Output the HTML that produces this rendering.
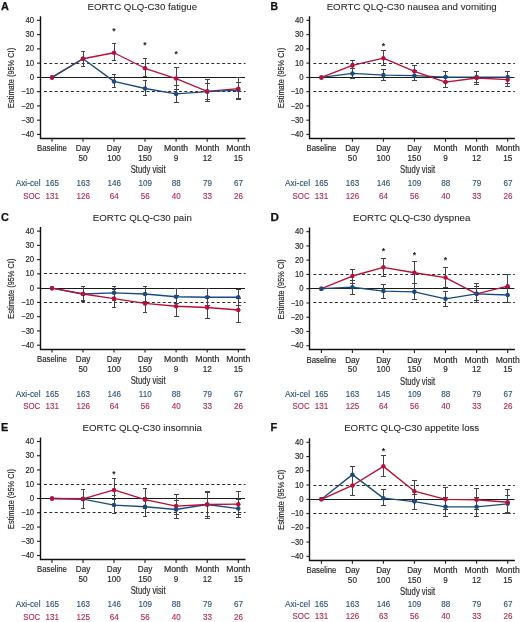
<!DOCTYPE html>
<html><head><meta charset="utf-8"><style>
html,body{margin:0;padding:0;background:#fff;}
svg{display:block;font-family:"Liberation Sans", sans-serif;will-change:transform;}
</style></head><body>
<svg width="520" height="622" viewBox="0 0 520 622">
<rect width="520" height="622" fill="#fff"/>
<g transform="translate(0,0)">
<text x="1" y="9.8" font-size="10.6" font-weight="bold" fill="#111" stroke="#111" stroke-width="0.25" textLength="7.88" lengthAdjust="spacingAndGlyphs">A</text>
<text x="142.3" y="10.1" font-size="9.6" fill="#2a2a2a" stroke="#2a2a2a" stroke-width="0.08" text-anchor="middle" textLength="109.75" lengthAdjust="spacingAndGlyphs">EORTC QLQ-C30 fatigue</text>
<text transform="translate(14.3,77.9) rotate(-90)" font-size="9.3" fill="#2a2a2a" stroke="#2a2a2a" stroke-width="0.18" text-anchor="middle" textLength="60" lengthAdjust="spacingAndGlyphs">Estimate (95% CI)</text>
<text x="34.1" y="22.96" font-size="8.8" fill="#2a2a2a" stroke="#2a2a2a" stroke-width="0.18" text-anchor="end" textLength="8.61" lengthAdjust="spacingAndGlyphs">40</text>
<path d="M37 20.36H40" stroke="#222" stroke-width="1.1"/>
<text x="34.1" y="37.22" font-size="8.8" fill="#2a2a2a" stroke="#2a2a2a" stroke-width="0.18" text-anchor="end" textLength="8.61" lengthAdjust="spacingAndGlyphs">30</text>
<path d="M37 34.62H40" stroke="#222" stroke-width="1.1"/>
<text x="34.1" y="51.48" font-size="8.8" fill="#2a2a2a" stroke="#2a2a2a" stroke-width="0.18" text-anchor="end" textLength="8.61" lengthAdjust="spacingAndGlyphs">20</text>
<path d="M37 48.88H40" stroke="#222" stroke-width="1.1"/>
<text x="34.1" y="65.74" font-size="8.8" fill="#2a2a2a" stroke="#2a2a2a" stroke-width="0.18" text-anchor="end" textLength="8.61" lengthAdjust="spacingAndGlyphs">10</text>
<path d="M37 63.14H40" stroke="#222" stroke-width="1.1"/>
<text x="34.1" y="80" font-size="8.8" fill="#2a2a2a" stroke="#2a2a2a" stroke-width="0.18" text-anchor="end" textLength="4.31" lengthAdjust="spacingAndGlyphs">0</text>
<path d="M37 77.4H40" stroke="#222" stroke-width="1.1"/>
<text x="34.1" y="94.26" font-size="8.8" fill="#2a2a2a" stroke="#2a2a2a" stroke-width="0.18" text-anchor="end" textLength="12.84" lengthAdjust="spacingAndGlyphs">−10</text>
<path d="M37 91.66H40" stroke="#222" stroke-width="1.1"/>
<text x="34.1" y="108.52" font-size="8.8" fill="#2a2a2a" stroke="#2a2a2a" stroke-width="0.18" text-anchor="end" textLength="12.84" lengthAdjust="spacingAndGlyphs">−20</text>
<path d="M37 105.92H40" stroke="#222" stroke-width="1.1"/>
<text x="34.1" y="122.78" font-size="8.8" fill="#2a2a2a" stroke="#2a2a2a" stroke-width="0.18" text-anchor="end" textLength="12.84" lengthAdjust="spacingAndGlyphs">−30</text>
<path d="M37 120.18H40" stroke="#222" stroke-width="1.1"/>
<text x="34.1" y="137.04" font-size="8.8" fill="#2a2a2a" stroke="#2a2a2a" stroke-width="0.18" text-anchor="end" textLength="12.84" lengthAdjust="spacingAndGlyphs">−40</text>
<path d="M37 134.44H40" stroke="#222" stroke-width="1.1"/>
<path d="M44 63.5H245.5M44 91.5H245.5" stroke="#2a2a2a" stroke-width="1.1" stroke-dasharray="2.9 2.5"/>
<path d="M40 77.5H245" stroke="#1a1a1a" stroke-width="1.1"/>
<path d="M40.5 16.3V138.5H245.5" stroke="#111" stroke-width="1.4" fill="none"/>
<path d="M52 138.5V141.8" stroke="#222" stroke-width="1.1"/>
<path d="M83 138.5V141.8" stroke="#222" stroke-width="1.1"/>
<path d="M114 138.5V141.8" stroke="#222" stroke-width="1.1"/>
<path d="M145 138.5V141.8" stroke="#222" stroke-width="1.1"/>
<path d="M176.1 138.5V141.8" stroke="#222" stroke-width="1.1"/>
<path d="M207.2 138.5V141.8" stroke="#222" stroke-width="1.1"/>
<path d="M238.3 138.5V141.8" stroke="#222" stroke-width="1.1"/>
<text x="52" y="151.35" font-size="8.4" fill="#2a2a2a" stroke="#2a2a2a" stroke-width="0.18" text-anchor="middle" textLength="29.81" lengthAdjust="spacingAndGlyphs">Baseline</text>
<text x="83" y="151.35" font-size="8.4" fill="#2a2a2a" stroke="#2a2a2a" stroke-width="0.18" text-anchor="middle" textLength="14.49" lengthAdjust="spacingAndGlyphs">Day</text>
<text x="83" y="160.9" font-size="8.8" fill="#2a2a2a" stroke="#2a2a2a" stroke-width="0.18" text-anchor="middle" textLength="9.1" lengthAdjust="spacingAndGlyphs">50</text>
<text x="114" y="151.35" font-size="8.4" fill="#2a2a2a" stroke="#2a2a2a" stroke-width="0.18" text-anchor="middle" textLength="14.49" lengthAdjust="spacingAndGlyphs">Day</text>
<text x="114" y="160.9" font-size="8.8" fill="#2a2a2a" stroke="#2a2a2a" stroke-width="0.18" text-anchor="middle" textLength="13.65" lengthAdjust="spacingAndGlyphs">100</text>
<text x="145" y="151.35" font-size="8.4" fill="#2a2a2a" stroke="#2a2a2a" stroke-width="0.18" text-anchor="middle" textLength="14.49" lengthAdjust="spacingAndGlyphs">Day</text>
<text x="145" y="160.9" font-size="8.8" fill="#2a2a2a" stroke="#2a2a2a" stroke-width="0.18" text-anchor="middle" textLength="13.65" lengthAdjust="spacingAndGlyphs">150</text>
<text x="176.1" y="151.35" font-size="8.4" fill="#2a2a2a" stroke="#2a2a2a" stroke-width="0.18" text-anchor="middle" textLength="24.05" lengthAdjust="spacingAndGlyphs">Month</text>
<text x="176.1" y="160.9" font-size="8.8" fill="#2a2a2a" stroke="#2a2a2a" stroke-width="0.18" text-anchor="middle" textLength="4.55" lengthAdjust="spacingAndGlyphs">9</text>
<text x="207.2" y="151.35" font-size="8.4" fill="#2a2a2a" stroke="#2a2a2a" stroke-width="0.18" text-anchor="middle" textLength="24.05" lengthAdjust="spacingAndGlyphs">Month</text>
<text x="207.2" y="160.9" font-size="8.8" fill="#2a2a2a" stroke="#2a2a2a" stroke-width="0.18" text-anchor="middle" textLength="9.1" lengthAdjust="spacingAndGlyphs">12</text>
<text x="238.3" y="151.35" font-size="8.4" fill="#2a2a2a" stroke="#2a2a2a" stroke-width="0.18" text-anchor="middle" textLength="24.05" lengthAdjust="spacingAndGlyphs">Month</text>
<text x="238.3" y="160.9" font-size="8.8" fill="#2a2a2a" stroke="#2a2a2a" stroke-width="0.18" text-anchor="middle" textLength="9.1" lengthAdjust="spacingAndGlyphs">15</text>
<text x="148.2" y="173.4" font-size="10.3" fill="#2a2a2a" stroke="#2a2a2a" stroke-width="0.18" text-anchor="middle" textLength="34.97" lengthAdjust="spacingAndGlyphs">Study visit</text>
<text x="40.6" y="186.3" font-size="8.3" fill="#2a5079" stroke="#2a5079" stroke-width="0.12" text-anchor="end">Axi-cel</text>
<text x="40.3" y="198.5" font-size="8.3" fill="#b42a48" stroke="#b42a48" stroke-width="0.12" text-anchor="end" textLength="17.09" lengthAdjust="spacingAndGlyphs">SOC</text>
<text x="52.2" y="186.3" font-size="8.4" fill="#2a5079" stroke="#2a5079" stroke-width="0.12" text-anchor="middle" textLength="13.45" lengthAdjust="spacingAndGlyphs">165</text>
<text x="52.2" y="198.5" font-size="8.4" fill="#b42a48" stroke="#b42a48" stroke-width="0.12" text-anchor="middle" textLength="13.45" lengthAdjust="spacingAndGlyphs">131</text>
<text x="83.2" y="186.3" font-size="8.4" fill="#2a5079" stroke="#2a5079" stroke-width="0.12" text-anchor="middle" textLength="13.45" lengthAdjust="spacingAndGlyphs">163</text>
<text x="83.2" y="198.5" font-size="8.4" fill="#b42a48" stroke="#b42a48" stroke-width="0.12" text-anchor="middle" textLength="13.45" lengthAdjust="spacingAndGlyphs">126</text>
<text x="114.2" y="186.3" font-size="8.4" fill="#2a5079" stroke="#2a5079" stroke-width="0.12" text-anchor="middle" textLength="13.45" lengthAdjust="spacingAndGlyphs">146</text>
<text x="114.2" y="198.5" font-size="8.4" fill="#b42a48" stroke="#b42a48" stroke-width="0.12" text-anchor="middle" textLength="8.97" lengthAdjust="spacingAndGlyphs">64</text>
<text x="145.2" y="186.3" font-size="8.4" fill="#2a5079" stroke="#2a5079" stroke-width="0.12" text-anchor="middle" textLength="13.45" lengthAdjust="spacingAndGlyphs">109</text>
<text x="145.2" y="198.5" font-size="8.4" fill="#b42a48" stroke="#b42a48" stroke-width="0.12" text-anchor="middle" textLength="8.97" lengthAdjust="spacingAndGlyphs">56</text>
<text x="176.3" y="186.3" font-size="8.4" fill="#2a5079" stroke="#2a5079" stroke-width="0.12" text-anchor="middle" textLength="8.97" lengthAdjust="spacingAndGlyphs">88</text>
<text x="176.3" y="198.5" font-size="8.4" fill="#b42a48" stroke="#b42a48" stroke-width="0.12" text-anchor="middle" textLength="8.97" lengthAdjust="spacingAndGlyphs">40</text>
<text x="207.4" y="186.3" font-size="8.4" fill="#2a5079" stroke="#2a5079" stroke-width="0.12" text-anchor="middle" textLength="8.97" lengthAdjust="spacingAndGlyphs">79</text>
<text x="207.4" y="198.5" font-size="8.4" fill="#b42a48" stroke="#b42a48" stroke-width="0.12" text-anchor="middle" textLength="8.97" lengthAdjust="spacingAndGlyphs">33</text>
<text x="238.5" y="186.3" font-size="8.4" fill="#2a5079" stroke="#2a5079" stroke-width="0.12" text-anchor="middle" textLength="8.97" lengthAdjust="spacingAndGlyphs">67</text>
<text x="238.5" y="198.5" font-size="8.4" fill="#b42a48" stroke="#b42a48" stroke-width="0.12" text-anchor="middle" textLength="8.97" lengthAdjust="spacingAndGlyphs">26</text>
<path d="M83 51.59V66.28M80.6 51.59H85.4M80.6 66.28H85.4" stroke="#444" stroke-width="1" fill="none" shape-rendering="crispEdges"/>
<path d="M114 74.69V87.67M111.6 74.69H116.4M111.6 87.67H116.4" stroke="#444" stroke-width="1" fill="none" shape-rendering="crispEdges"/>
<path d="M145 80.39V95.37M142.6 80.39H147.4M142.6 95.37H147.4" stroke="#444" stroke-width="1" fill="none" shape-rendering="crispEdges"/>
<path d="M176.1 85.96V102.5M173.7 85.96H178.5M173.7 102.5H178.5" stroke="#444" stroke-width="1" fill="none" shape-rendering="crispEdges"/>
<path d="M207.2 83.67V99.65M204.8 83.67H209.6M204.8 99.65H209.6" stroke="#444" stroke-width="1" fill="none" shape-rendering="crispEdges"/>
<path d="M238.3 82.11V98.08M235.9 82.11H240.7M235.9 98.08H240.7" stroke="#444" stroke-width="1" fill="none" shape-rendering="crispEdges"/>
<path d="M83 51.59V66.28M80.6 51.59H85.4M80.6 66.28H85.4" stroke="#444" stroke-width="1" fill="none" shape-rendering="crispEdges"/>
<path d="M114 43.89V60.72M111.6 43.89H116.4M111.6 60.72H116.4" stroke="#444" stroke-width="1" fill="none" shape-rendering="crispEdges"/>
<path d="M145 58.43V76.97M142.6 58.43H147.4M142.6 76.97H147.4" stroke="#444" stroke-width="1" fill="none" shape-rendering="crispEdges"/>
<path d="M176.1 67.42V89.38M173.7 67.42H178.5M173.7 89.38H178.5" stroke="#444" stroke-width="1" fill="none" shape-rendering="crispEdges"/>
<path d="M207.2 79.68V101.36M204.8 79.68H209.6M204.8 101.36H209.6" stroke="#444" stroke-width="1" fill="none" shape-rendering="crispEdges"/>
<path d="M238.3 77.11V99.65M235.9 77.11H240.7M235.9 99.65H240.7" stroke="#444" stroke-width="1" fill="none" shape-rendering="crispEdges"/>
<polyline points="52,77.4 83,58.72 114,52.73 145,68.27 176.1,78.54 207.2,91.37 238.3,88.67" fill="none" stroke="#b8103a" stroke-width="1.35" stroke-linejoin="round"/>
<polyline points="52,77.4 83,58.72 114,81.39 145,88.52 176.1,93.94 207.2,91.66 238.3,90.09" fill="none" stroke="#1b4b7e" stroke-width="1.35" stroke-linejoin="round"/>
<circle cx="52" cy="77.4" r="2.25" fill="#1b4b7e"/>
<circle cx="83" cy="58.72" r="2.25" fill="#1b4b7e"/>
<circle cx="114" cy="81.39" r="2.25" fill="#1b4b7e"/>
<circle cx="145" cy="88.52" r="2.25" fill="#1b4b7e"/>
<circle cx="176.1" cy="93.94" r="2.25" fill="#1b4b7e"/>
<circle cx="207.2" cy="91.66" r="2.25" fill="#1b4b7e"/>
<circle cx="238.3" cy="90.09" r="2.25" fill="#1b4b7e"/>
<circle cx="52" cy="77.4" r="2.25" fill="#b8103a"/>
<circle cx="83" cy="58.72" r="2.25" fill="#b8103a"/>
<circle cx="114" cy="52.73" r="2.25" fill="#b8103a"/>
<circle cx="145" cy="68.27" r="2.25" fill="#b8103a"/>
<circle cx="176.1" cy="78.54" r="2.25" fill="#b8103a"/>
<circle cx="207.2" cy="91.37" r="2.25" fill="#b8103a"/>
<circle cx="238.3" cy="88.67" r="2.25" fill="#b8103a"/>
<text x="114" y="33.9" font-size="8.5" font-weight="bold" fill="#222" text-anchor="middle">*</text>
<text x="145" y="47.9" font-size="8.5" font-weight="bold" fill="#222" text-anchor="middle">*</text>
<text x="176.1" y="56.7" font-size="8.5" font-weight="bold" fill="#222" text-anchor="middle">*</text>
</g>
<g transform="translate(269.4,0)">
<text x="1" y="9.8" font-size="10.6" font-weight="bold" fill="#111" stroke="#111" stroke-width="0.25" textLength="7.5" lengthAdjust="spacingAndGlyphs">B</text>
<text x="142.3" y="10.1" font-size="9.6" fill="#2a2a2a" stroke="#2a2a2a" stroke-width="0.08" text-anchor="middle" textLength="170.12" lengthAdjust="spacingAndGlyphs">EORTC QLQ-C30 nausea and vomiting</text>
<text transform="translate(14.3,77.9) rotate(-90)" font-size="9.3" fill="#2a2a2a" stroke="#2a2a2a" stroke-width="0.18" text-anchor="middle" textLength="60" lengthAdjust="spacingAndGlyphs">Estimate (95% CI)</text>
<text x="34.1" y="22.96" font-size="8.8" fill="#2a2a2a" stroke="#2a2a2a" stroke-width="0.18" text-anchor="end" textLength="8.61" lengthAdjust="spacingAndGlyphs">40</text>
<path d="M37 20.36H40" stroke="#222" stroke-width="1.1"/>
<text x="34.1" y="37.22" font-size="8.8" fill="#2a2a2a" stroke="#2a2a2a" stroke-width="0.18" text-anchor="end" textLength="8.61" lengthAdjust="spacingAndGlyphs">30</text>
<path d="M37 34.62H40" stroke="#222" stroke-width="1.1"/>
<text x="34.1" y="51.48" font-size="8.8" fill="#2a2a2a" stroke="#2a2a2a" stroke-width="0.18" text-anchor="end" textLength="8.61" lengthAdjust="spacingAndGlyphs">20</text>
<path d="M37 48.88H40" stroke="#222" stroke-width="1.1"/>
<text x="34.1" y="65.74" font-size="8.8" fill="#2a2a2a" stroke="#2a2a2a" stroke-width="0.18" text-anchor="end" textLength="8.61" lengthAdjust="spacingAndGlyphs">10</text>
<path d="M37 63.14H40" stroke="#222" stroke-width="1.1"/>
<text x="34.1" y="80" font-size="8.8" fill="#2a2a2a" stroke="#2a2a2a" stroke-width="0.18" text-anchor="end" textLength="4.31" lengthAdjust="spacingAndGlyphs">0</text>
<path d="M37 77.4H40" stroke="#222" stroke-width="1.1"/>
<text x="34.1" y="94.26" font-size="8.8" fill="#2a2a2a" stroke="#2a2a2a" stroke-width="0.18" text-anchor="end" textLength="12.84" lengthAdjust="spacingAndGlyphs">−10</text>
<path d="M37 91.66H40" stroke="#222" stroke-width="1.1"/>
<text x="34.1" y="108.52" font-size="8.8" fill="#2a2a2a" stroke="#2a2a2a" stroke-width="0.18" text-anchor="end" textLength="12.84" lengthAdjust="spacingAndGlyphs">−20</text>
<path d="M37 105.92H40" stroke="#222" stroke-width="1.1"/>
<text x="34.1" y="122.78" font-size="8.8" fill="#2a2a2a" stroke="#2a2a2a" stroke-width="0.18" text-anchor="end" textLength="12.84" lengthAdjust="spacingAndGlyphs">−30</text>
<path d="M37 120.18H40" stroke="#222" stroke-width="1.1"/>
<text x="34.1" y="137.04" font-size="8.8" fill="#2a2a2a" stroke="#2a2a2a" stroke-width="0.18" text-anchor="end" textLength="12.84" lengthAdjust="spacingAndGlyphs">−40</text>
<path d="M37 134.44H40" stroke="#222" stroke-width="1.1"/>
<path d="M44 63.5H245.5M44 91.5H245.5" stroke="#2a2a2a" stroke-width="1.1" stroke-dasharray="2.9 2.5"/>
<path d="M40 77.5H245" stroke="#1a1a1a" stroke-width="1.1"/>
<path d="M40.1 16.3V138.5H245.5" stroke="#111" stroke-width="1.4" fill="none"/>
<path d="M52 138.5V141.8" stroke="#222" stroke-width="1.1"/>
<path d="M83 138.5V141.8" stroke="#222" stroke-width="1.1"/>
<path d="M114 138.5V141.8" stroke="#222" stroke-width="1.1"/>
<path d="M145 138.5V141.8" stroke="#222" stroke-width="1.1"/>
<path d="M176.1 138.5V141.8" stroke="#222" stroke-width="1.1"/>
<path d="M207.2 138.5V141.8" stroke="#222" stroke-width="1.1"/>
<path d="M238.3 138.5V141.8" stroke="#222" stroke-width="1.1"/>
<text x="52" y="151.35" font-size="8.4" fill="#2a2a2a" stroke="#2a2a2a" stroke-width="0.18" text-anchor="middle" textLength="29.81" lengthAdjust="spacingAndGlyphs">Baseline</text>
<text x="83" y="151.35" font-size="8.4" fill="#2a2a2a" stroke="#2a2a2a" stroke-width="0.18" text-anchor="middle" textLength="14.49" lengthAdjust="spacingAndGlyphs">Day</text>
<text x="83" y="160.9" font-size="8.8" fill="#2a2a2a" stroke="#2a2a2a" stroke-width="0.18" text-anchor="middle" textLength="9.1" lengthAdjust="spacingAndGlyphs">50</text>
<text x="114" y="151.35" font-size="8.4" fill="#2a2a2a" stroke="#2a2a2a" stroke-width="0.18" text-anchor="middle" textLength="14.49" lengthAdjust="spacingAndGlyphs">Day</text>
<text x="114" y="160.9" font-size="8.8" fill="#2a2a2a" stroke="#2a2a2a" stroke-width="0.18" text-anchor="middle" textLength="13.65" lengthAdjust="spacingAndGlyphs">100</text>
<text x="145" y="151.35" font-size="8.4" fill="#2a2a2a" stroke="#2a2a2a" stroke-width="0.18" text-anchor="middle" textLength="14.49" lengthAdjust="spacingAndGlyphs">Day</text>
<text x="145" y="160.9" font-size="8.8" fill="#2a2a2a" stroke="#2a2a2a" stroke-width="0.18" text-anchor="middle" textLength="13.65" lengthAdjust="spacingAndGlyphs">150</text>
<text x="176.1" y="151.35" font-size="8.4" fill="#2a2a2a" stroke="#2a2a2a" stroke-width="0.18" text-anchor="middle" textLength="24.05" lengthAdjust="spacingAndGlyphs">Month</text>
<text x="176.1" y="160.9" font-size="8.8" fill="#2a2a2a" stroke="#2a2a2a" stroke-width="0.18" text-anchor="middle" textLength="4.55" lengthAdjust="spacingAndGlyphs">9</text>
<text x="207.2" y="151.35" font-size="8.4" fill="#2a2a2a" stroke="#2a2a2a" stroke-width="0.18" text-anchor="middle" textLength="24.05" lengthAdjust="spacingAndGlyphs">Month</text>
<text x="207.2" y="160.9" font-size="8.8" fill="#2a2a2a" stroke="#2a2a2a" stroke-width="0.18" text-anchor="middle" textLength="9.1" lengthAdjust="spacingAndGlyphs">12</text>
<text x="238.3" y="151.35" font-size="8.4" fill="#2a2a2a" stroke="#2a2a2a" stroke-width="0.18" text-anchor="middle" textLength="24.05" lengthAdjust="spacingAndGlyphs">Month</text>
<text x="238.3" y="160.9" font-size="8.8" fill="#2a2a2a" stroke="#2a2a2a" stroke-width="0.18" text-anchor="middle" textLength="9.1" lengthAdjust="spacingAndGlyphs">15</text>
<text x="148.2" y="173.4" font-size="10.3" fill="#2a2a2a" stroke="#2a2a2a" stroke-width="0.18" text-anchor="middle" textLength="34.97" lengthAdjust="spacingAndGlyphs">Study visit</text>
<text x="40.6" y="186.3" font-size="8.3" fill="#2a5079" stroke="#2a5079" stroke-width="0.12" text-anchor="end">Axi-cel</text>
<text x="40.3" y="198.5" font-size="8.3" fill="#b42a48" stroke="#b42a48" stroke-width="0.12" text-anchor="end" textLength="17.09" lengthAdjust="spacingAndGlyphs">SOC</text>
<text x="52.2" y="186.3" font-size="8.4" fill="#2a5079" stroke="#2a5079" stroke-width="0.12" text-anchor="middle" textLength="13.45" lengthAdjust="spacingAndGlyphs">165</text>
<text x="52.2" y="198.5" font-size="8.4" fill="#b42a48" stroke="#b42a48" stroke-width="0.12" text-anchor="middle" textLength="13.45" lengthAdjust="spacingAndGlyphs">131</text>
<text x="83.2" y="186.3" font-size="8.4" fill="#2a5079" stroke="#2a5079" stroke-width="0.12" text-anchor="middle" textLength="13.45" lengthAdjust="spacingAndGlyphs">163</text>
<text x="83.2" y="198.5" font-size="8.4" fill="#b42a48" stroke="#b42a48" stroke-width="0.12" text-anchor="middle" textLength="13.45" lengthAdjust="spacingAndGlyphs">126</text>
<text x="114.2" y="186.3" font-size="8.4" fill="#2a5079" stroke="#2a5079" stroke-width="0.12" text-anchor="middle" textLength="13.45" lengthAdjust="spacingAndGlyphs">146</text>
<text x="114.2" y="198.5" font-size="8.4" fill="#b42a48" stroke="#b42a48" stroke-width="0.12" text-anchor="middle" textLength="8.97" lengthAdjust="spacingAndGlyphs">64</text>
<text x="145.2" y="186.3" font-size="8.4" fill="#2a5079" stroke="#2a5079" stroke-width="0.12" text-anchor="middle" textLength="13.45" lengthAdjust="spacingAndGlyphs">109</text>
<text x="145.2" y="198.5" font-size="8.4" fill="#b42a48" stroke="#b42a48" stroke-width="0.12" text-anchor="middle" textLength="8.97" lengthAdjust="spacingAndGlyphs">56</text>
<text x="176.3" y="186.3" font-size="8.4" fill="#2a5079" stroke="#2a5079" stroke-width="0.12" text-anchor="middle" textLength="8.97" lengthAdjust="spacingAndGlyphs">88</text>
<text x="176.3" y="198.5" font-size="8.4" fill="#b42a48" stroke="#b42a48" stroke-width="0.12" text-anchor="middle" textLength="8.97" lengthAdjust="spacingAndGlyphs">40</text>
<text x="207.4" y="186.3" font-size="8.4" fill="#2a5079" stroke="#2a5079" stroke-width="0.12" text-anchor="middle" textLength="8.97" lengthAdjust="spacingAndGlyphs">79</text>
<text x="207.4" y="198.5" font-size="8.4" fill="#b42a48" stroke="#b42a48" stroke-width="0.12" text-anchor="middle" textLength="8.97" lengthAdjust="spacingAndGlyphs">33</text>
<text x="238.5" y="186.3" font-size="8.4" fill="#2a5079" stroke="#2a5079" stroke-width="0.12" text-anchor="middle" textLength="8.97" lengthAdjust="spacingAndGlyphs">67</text>
<text x="238.5" y="198.5" font-size="8.4" fill="#b42a48" stroke="#b42a48" stroke-width="0.12" text-anchor="middle" textLength="8.97" lengthAdjust="spacingAndGlyphs">26</text>
<path d="M83 68.27V78.11M80.6 68.27H85.4M80.6 78.11H85.4" stroke="#444" stroke-width="1" fill="none" shape-rendering="crispEdges"/>
<path d="M114 69.84V80.39M111.6 69.84H116.4M111.6 80.39H116.4" stroke="#444" stroke-width="1" fill="none" shape-rendering="crispEdges"/>
<path d="M145 70.98V80.25M142.6 70.98H147.4M142.6 80.25H147.4" stroke="#444" stroke-width="1" fill="none" shape-rendering="crispEdges"/>
<path d="M176.1 71.7V82.39M173.7 71.7H178.5M173.7 82.39H178.5" stroke="#444" stroke-width="1" fill="none" shape-rendering="crispEdges"/>
<path d="M207.2 71.7V82.39M204.8 71.7H209.6M204.8 82.39H209.6" stroke="#444" stroke-width="1" fill="none" shape-rendering="crispEdges"/>
<path d="M238.3 71.7V83.1M235.9 71.7H240.7M235.9 83.1H240.7" stroke="#444" stroke-width="1" fill="none" shape-rendering="crispEdges"/>
<path d="M83 60.72V78.11M80.6 60.72H85.4M80.6 78.11H85.4" stroke="#444" stroke-width="1" fill="none" shape-rendering="crispEdges"/>
<path d="M114 50.45V65.28M111.6 50.45H116.4M111.6 65.28H116.4" stroke="#444" stroke-width="1" fill="none" shape-rendering="crispEdges"/>
<path d="M145 65.42V80.39M142.6 65.42H147.4M142.6 80.39H147.4" stroke="#444" stroke-width="1" fill="none" shape-rendering="crispEdges"/>
<path d="M176.1 76.69V87.81M173.7 76.69H178.5M173.7 87.81H178.5" stroke="#444" stroke-width="1" fill="none" shape-rendering="crispEdges"/>
<path d="M207.2 71.7V84.39M204.8 71.7H209.6M204.8 84.39H209.6" stroke="#444" stroke-width="1" fill="none" shape-rendering="crispEdges"/>
<path d="M238.3 71.7V86.67M235.9 71.7H240.7M235.9 86.67H240.7" stroke="#444" stroke-width="1" fill="none" shape-rendering="crispEdges"/>
<polyline points="52,77.4 83,73.41 114,75.12 145,75.69 176.1,77.11 207.2,77.11 238.3,77.11" fill="none" stroke="#1b4b7e" stroke-width="1.35" stroke-linejoin="round"/>
<circle cx="52" cy="77.4" r="2.25" fill="#1b4b7e"/>
<circle cx="83" cy="73.41" r="2.25" fill="#1b4b7e"/>
<circle cx="114" cy="75.12" r="2.25" fill="#1b4b7e"/>
<circle cx="145" cy="75.69" r="2.25" fill="#1b4b7e"/>
<circle cx="176.1" cy="77.11" r="2.25" fill="#1b4b7e"/>
<circle cx="207.2" cy="77.11" r="2.25" fill="#1b4b7e"/>
<circle cx="238.3" cy="77.11" r="2.25" fill="#1b4b7e"/>
<polyline points="52,77.4 83,65.42 114,58.15 145,71.27 176.1,82.11 207.2,77.97 238.3,79.68" fill="none" stroke="#b8103a" stroke-width="1.35" stroke-linejoin="round"/>
<circle cx="52" cy="77.4" r="2.25" fill="#b8103a"/>
<circle cx="83" cy="65.42" r="2.25" fill="#b8103a"/>
<circle cx="114" cy="58.15" r="2.25" fill="#b8103a"/>
<circle cx="145" cy="71.27" r="2.25" fill="#b8103a"/>
<circle cx="176.1" cy="82.11" r="2.25" fill="#b8103a"/>
<circle cx="207.2" cy="77.97" r="2.25" fill="#b8103a"/>
<circle cx="238.3" cy="79.68" r="2.25" fill="#b8103a"/>
<text x="114" y="48.8" font-size="8.5" font-weight="bold" fill="#222" text-anchor="middle">*</text>
</g>
<g transform="translate(0,210.75)">
<text x="1" y="9.8" font-size="10.6" font-weight="bold" fill="#111" stroke="#111" stroke-width="0.25" textLength="7.88" lengthAdjust="spacingAndGlyphs">C</text>
<text x="142.3" y="10.1" font-size="9.6" fill="#2a2a2a" stroke="#2a2a2a" stroke-width="0.08" text-anchor="middle" textLength="98.97" lengthAdjust="spacingAndGlyphs">EORTC QLQ-C30 pain</text>
<text transform="translate(14.3,77.9) rotate(-90)" font-size="9.3" fill="#2a2a2a" stroke="#2a2a2a" stroke-width="0.18" text-anchor="middle" textLength="60" lengthAdjust="spacingAndGlyphs">Estimate (95% CI)</text>
<text x="34.1" y="22.96" font-size="8.8" fill="#2a2a2a" stroke="#2a2a2a" stroke-width="0.18" text-anchor="end" textLength="8.61" lengthAdjust="spacingAndGlyphs">40</text>
<path d="M37 20.36H40" stroke="#222" stroke-width="1.1"/>
<text x="34.1" y="37.22" font-size="8.8" fill="#2a2a2a" stroke="#2a2a2a" stroke-width="0.18" text-anchor="end" textLength="8.61" lengthAdjust="spacingAndGlyphs">30</text>
<path d="M37 34.62H40" stroke="#222" stroke-width="1.1"/>
<text x="34.1" y="51.48" font-size="8.8" fill="#2a2a2a" stroke="#2a2a2a" stroke-width="0.18" text-anchor="end" textLength="8.61" lengthAdjust="spacingAndGlyphs">20</text>
<path d="M37 48.88H40" stroke="#222" stroke-width="1.1"/>
<text x="34.1" y="65.74" font-size="8.8" fill="#2a2a2a" stroke="#2a2a2a" stroke-width="0.18" text-anchor="end" textLength="8.61" lengthAdjust="spacingAndGlyphs">10</text>
<path d="M37 63.14H40" stroke="#222" stroke-width="1.1"/>
<text x="34.1" y="80" font-size="8.8" fill="#2a2a2a" stroke="#2a2a2a" stroke-width="0.18" text-anchor="end" textLength="4.31" lengthAdjust="spacingAndGlyphs">0</text>
<path d="M37 77.4H40" stroke="#222" stroke-width="1.1"/>
<text x="34.1" y="94.26" font-size="8.8" fill="#2a2a2a" stroke="#2a2a2a" stroke-width="0.18" text-anchor="end" textLength="12.84" lengthAdjust="spacingAndGlyphs">−10</text>
<path d="M37 91.66H40" stroke="#222" stroke-width="1.1"/>
<text x="34.1" y="108.52" font-size="8.8" fill="#2a2a2a" stroke="#2a2a2a" stroke-width="0.18" text-anchor="end" textLength="12.84" lengthAdjust="spacingAndGlyphs">−20</text>
<path d="M37 105.92H40" stroke="#222" stroke-width="1.1"/>
<text x="34.1" y="122.78" font-size="8.8" fill="#2a2a2a" stroke="#2a2a2a" stroke-width="0.18" text-anchor="end" textLength="12.84" lengthAdjust="spacingAndGlyphs">−30</text>
<path d="M37 120.18H40" stroke="#222" stroke-width="1.1"/>
<text x="34.1" y="137.04" font-size="8.8" fill="#2a2a2a" stroke="#2a2a2a" stroke-width="0.18" text-anchor="end" textLength="12.84" lengthAdjust="spacingAndGlyphs">−40</text>
<path d="M37 134.44H40" stroke="#222" stroke-width="1.1"/>
<path d="M44 62.75H245.5M44 91.75H245.5" stroke="#2a2a2a" stroke-width="1.1" stroke-dasharray="2.9 2.5"/>
<path d="M40 77.75H245" stroke="#1a1a1a" stroke-width="1.1"/>
<path d="M40.5 16.3V138.75H245.5" stroke="#111" stroke-width="1.4" fill="none"/>
<path d="M52 138.5V141.8" stroke="#222" stroke-width="1.1"/>
<path d="M83 138.5V141.8" stroke="#222" stroke-width="1.1"/>
<path d="M114 138.5V141.8" stroke="#222" stroke-width="1.1"/>
<path d="M145 138.5V141.8" stroke="#222" stroke-width="1.1"/>
<path d="M176.1 138.5V141.8" stroke="#222" stroke-width="1.1"/>
<path d="M207.2 138.5V141.8" stroke="#222" stroke-width="1.1"/>
<path d="M238.3 138.5V141.8" stroke="#222" stroke-width="1.1"/>
<text x="52" y="151.35" font-size="8.4" fill="#2a2a2a" stroke="#2a2a2a" stroke-width="0.18" text-anchor="middle" textLength="29.81" lengthAdjust="spacingAndGlyphs">Baseline</text>
<text x="83" y="151.35" font-size="8.4" fill="#2a2a2a" stroke="#2a2a2a" stroke-width="0.18" text-anchor="middle" textLength="14.49" lengthAdjust="spacingAndGlyphs">Day</text>
<text x="83" y="160.9" font-size="8.8" fill="#2a2a2a" stroke="#2a2a2a" stroke-width="0.18" text-anchor="middle" textLength="9.1" lengthAdjust="spacingAndGlyphs">50</text>
<text x="114" y="151.35" font-size="8.4" fill="#2a2a2a" stroke="#2a2a2a" stroke-width="0.18" text-anchor="middle" textLength="14.49" lengthAdjust="spacingAndGlyphs">Day</text>
<text x="114" y="160.9" font-size="8.8" fill="#2a2a2a" stroke="#2a2a2a" stroke-width="0.18" text-anchor="middle" textLength="13.65" lengthAdjust="spacingAndGlyphs">100</text>
<text x="145" y="151.35" font-size="8.4" fill="#2a2a2a" stroke="#2a2a2a" stroke-width="0.18" text-anchor="middle" textLength="14.49" lengthAdjust="spacingAndGlyphs">Day</text>
<text x="145" y="160.9" font-size="8.8" fill="#2a2a2a" stroke="#2a2a2a" stroke-width="0.18" text-anchor="middle" textLength="13.65" lengthAdjust="spacingAndGlyphs">150</text>
<text x="176.1" y="151.35" font-size="8.4" fill="#2a2a2a" stroke="#2a2a2a" stroke-width="0.18" text-anchor="middle" textLength="24.05" lengthAdjust="spacingAndGlyphs">Month</text>
<text x="176.1" y="160.9" font-size="8.8" fill="#2a2a2a" stroke="#2a2a2a" stroke-width="0.18" text-anchor="middle" textLength="4.55" lengthAdjust="spacingAndGlyphs">9</text>
<text x="207.2" y="151.35" font-size="8.4" fill="#2a2a2a" stroke="#2a2a2a" stroke-width="0.18" text-anchor="middle" textLength="24.05" lengthAdjust="spacingAndGlyphs">Month</text>
<text x="207.2" y="160.9" font-size="8.8" fill="#2a2a2a" stroke="#2a2a2a" stroke-width="0.18" text-anchor="middle" textLength="9.1" lengthAdjust="spacingAndGlyphs">12</text>
<text x="238.3" y="151.35" font-size="8.4" fill="#2a2a2a" stroke="#2a2a2a" stroke-width="0.18" text-anchor="middle" textLength="24.05" lengthAdjust="spacingAndGlyphs">Month</text>
<text x="238.3" y="160.9" font-size="8.8" fill="#2a2a2a" stroke="#2a2a2a" stroke-width="0.18" text-anchor="middle" textLength="9.1" lengthAdjust="spacingAndGlyphs">15</text>
<text x="148.2" y="173.4" font-size="10.3" fill="#2a2a2a" stroke="#2a2a2a" stroke-width="0.18" text-anchor="middle" textLength="34.97" lengthAdjust="spacingAndGlyphs">Study visit</text>
<text x="40.6" y="186.3" font-size="8.3" fill="#2a5079" stroke="#2a5079" stroke-width="0.12" text-anchor="end">Axi-cel</text>
<text x="40.3" y="198.5" font-size="8.3" fill="#b42a48" stroke="#b42a48" stroke-width="0.12" text-anchor="end" textLength="17.09" lengthAdjust="spacingAndGlyphs">SOC</text>
<text x="52.2" y="186.3" font-size="8.4" fill="#2a5079" stroke="#2a5079" stroke-width="0.12" text-anchor="middle" textLength="13.45" lengthAdjust="spacingAndGlyphs">165</text>
<text x="52.2" y="198.5" font-size="8.4" fill="#b42a48" stroke="#b42a48" stroke-width="0.12" text-anchor="middle" textLength="13.45" lengthAdjust="spacingAndGlyphs">131</text>
<text x="83.2" y="186.3" font-size="8.4" fill="#2a5079" stroke="#2a5079" stroke-width="0.12" text-anchor="middle" textLength="13.45" lengthAdjust="spacingAndGlyphs">163</text>
<text x="83.2" y="198.5" font-size="8.4" fill="#b42a48" stroke="#b42a48" stroke-width="0.12" text-anchor="middle" textLength="13.45" lengthAdjust="spacingAndGlyphs">126</text>
<text x="114.2" y="186.3" font-size="8.4" fill="#2a5079" stroke="#2a5079" stroke-width="0.12" text-anchor="middle" textLength="13.45" lengthAdjust="spacingAndGlyphs">146</text>
<text x="114.2" y="198.5" font-size="8.4" fill="#b42a48" stroke="#b42a48" stroke-width="0.12" text-anchor="middle" textLength="8.97" lengthAdjust="spacingAndGlyphs">64</text>
<text x="145.2" y="186.3" font-size="8.4" fill="#2a5079" stroke="#2a5079" stroke-width="0.12" text-anchor="middle" textLength="12.86" lengthAdjust="spacingAndGlyphs">110</text>
<text x="145.2" y="198.5" font-size="8.4" fill="#b42a48" stroke="#b42a48" stroke-width="0.12" text-anchor="middle" textLength="8.97" lengthAdjust="spacingAndGlyphs">56</text>
<text x="176.3" y="186.3" font-size="8.4" fill="#2a5079" stroke="#2a5079" stroke-width="0.12" text-anchor="middle" textLength="8.97" lengthAdjust="spacingAndGlyphs">88</text>
<text x="176.3" y="198.5" font-size="8.4" fill="#b42a48" stroke="#b42a48" stroke-width="0.12" text-anchor="middle" textLength="8.97" lengthAdjust="spacingAndGlyphs">40</text>
<text x="207.4" y="186.3" font-size="8.4" fill="#2a5079" stroke="#2a5079" stroke-width="0.12" text-anchor="middle" textLength="8.97" lengthAdjust="spacingAndGlyphs">79</text>
<text x="207.4" y="198.5" font-size="8.4" fill="#b42a48" stroke="#b42a48" stroke-width="0.12" text-anchor="middle" textLength="8.97" lengthAdjust="spacingAndGlyphs">33</text>
<text x="238.5" y="186.3" font-size="8.4" fill="#2a5079" stroke="#2a5079" stroke-width="0.12" text-anchor="middle" textLength="8.97" lengthAdjust="spacingAndGlyphs">67</text>
<text x="238.5" y="198.5" font-size="8.4" fill="#b42a48" stroke="#b42a48" stroke-width="0.12" text-anchor="middle" textLength="8.97" lengthAdjust="spacingAndGlyphs">26</text>
<path d="M83 75.26V89.52M80.6 75.26H85.4M80.6 89.52H85.4" stroke="#444" stroke-width="1" fill="none" shape-rendering="crispEdges"/>
<path d="M114 75.26V89.52M111.6 75.26H116.4M111.6 89.52H116.4" stroke="#444" stroke-width="1" fill="none" shape-rendering="crispEdges"/>
<path d="M145 75.26V90.95M142.6 75.26H147.4M142.6 90.95H147.4" stroke="#444" stroke-width="1" fill="none" shape-rendering="crispEdges"/>
<path d="M176.1 77.83V93.09M173.7 77.83H178.5M173.7 93.09H178.5" stroke="#444" stroke-width="1" fill="none" shape-rendering="crispEdges"/>
<path d="M207.2 78.11V94.51M204.8 78.11H209.6M204.8 94.51H209.6" stroke="#444" stroke-width="1" fill="none" shape-rendering="crispEdges"/>
<path d="M238.3 78.54V94.51M235.9 78.54H240.7M235.9 94.51H240.7" stroke="#444" stroke-width="1" fill="none" shape-rendering="crispEdges"/>
<path d="M83 75.26V91.23M80.6 75.26H85.4M80.6 91.23H85.4" stroke="#444" stroke-width="1" fill="none" shape-rendering="crispEdges"/>
<path d="M114 78.83V96.65M111.6 78.83H116.4M111.6 96.65H116.4" stroke="#444" stroke-width="1" fill="none" shape-rendering="crispEdges"/>
<path d="M145 82.82V102.07M142.6 82.82H147.4M142.6 102.07H147.4" stroke="#444" stroke-width="1" fill="none" shape-rendering="crispEdges"/>
<path d="M176.1 85.24V106.21M173.7 85.24H178.5M173.7 106.21H178.5" stroke="#444" stroke-width="1" fill="none" shape-rendering="crispEdges"/>
<path d="M207.2 85.96V107.92M204.8 85.96H209.6M204.8 107.92H209.6" stroke="#444" stroke-width="1" fill="none" shape-rendering="crispEdges"/>
<path d="M238.3 87.38V111.62M235.9 87.38H240.7M235.9 111.62H240.7" stroke="#444" stroke-width="1" fill="none" shape-rendering="crispEdges"/>
<polyline points="52,77.4 83,83.25 114,82.11 145,83.25 176.1,85.96 207.2,86.53 238.3,86.53" fill="none" stroke="#1b4b7e" stroke-width="1.35" stroke-linejoin="round"/>
<circle cx="52" cy="77.4" r="2.25" fill="#1b4b7e"/>
<circle cx="83" cy="83.25" r="2.25" fill="#1b4b7e"/>
<circle cx="114" cy="82.11" r="2.25" fill="#1b4b7e"/>
<circle cx="145" cy="83.25" r="2.25" fill="#1b4b7e"/>
<circle cx="176.1" cy="85.96" r="2.25" fill="#1b4b7e"/>
<circle cx="207.2" cy="86.53" r="2.25" fill="#1b4b7e"/>
<circle cx="238.3" cy="86.53" r="2.25" fill="#1b4b7e"/>
<polyline points="52,77.4 83,83.25 114,87.81 145,92.66 176.1,95.51 207.2,96.79 238.3,99.22" fill="none" stroke="#b8103a" stroke-width="1.35" stroke-linejoin="round"/>
<circle cx="52" cy="77.4" r="2.25" fill="#b8103a"/>
<circle cx="83" cy="83.25" r="2.25" fill="#b8103a"/>
<circle cx="114" cy="87.81" r="2.25" fill="#b8103a"/>
<circle cx="145" cy="92.66" r="2.25" fill="#b8103a"/>
<circle cx="176.1" cy="95.51" r="2.25" fill="#b8103a"/>
<circle cx="207.2" cy="96.79" r="2.25" fill="#b8103a"/>
<circle cx="238.3" cy="99.22" r="2.25" fill="#b8103a"/>
</g>
<g transform="translate(269.4,211.3)">
<text x="1" y="9.3" font-size="10.6" font-weight="bold" fill="#111" stroke="#111" stroke-width="0.25" textLength="8.42" lengthAdjust="spacingAndGlyphs">D</text>
<text x="142.3" y="9.6" font-size="9.6" fill="#2a2a2a" stroke="#2a2a2a" stroke-width="0.08" text-anchor="middle" textLength="117.3" lengthAdjust="spacingAndGlyphs">EORTC QLQ-C30 dyspnea</text>
<text transform="translate(14.3,77.9) rotate(-90)" font-size="9.3" fill="#2a2a2a" stroke="#2a2a2a" stroke-width="0.18" text-anchor="middle" textLength="60" lengthAdjust="spacingAndGlyphs">Estimate (95% CI)</text>
<text x="34.1" y="22.96" font-size="8.8" fill="#2a2a2a" stroke="#2a2a2a" stroke-width="0.18" text-anchor="end" textLength="8.61" lengthAdjust="spacingAndGlyphs">40</text>
<path d="M37 20.36H40" stroke="#222" stroke-width="1.1"/>
<text x="34.1" y="37.22" font-size="8.8" fill="#2a2a2a" stroke="#2a2a2a" stroke-width="0.18" text-anchor="end" textLength="8.61" lengthAdjust="spacingAndGlyphs">30</text>
<path d="M37 34.62H40" stroke="#222" stroke-width="1.1"/>
<text x="34.1" y="51.48" font-size="8.8" fill="#2a2a2a" stroke="#2a2a2a" stroke-width="0.18" text-anchor="end" textLength="8.61" lengthAdjust="spacingAndGlyphs">20</text>
<path d="M37 48.88H40" stroke="#222" stroke-width="1.1"/>
<text x="34.1" y="65.74" font-size="8.8" fill="#2a2a2a" stroke="#2a2a2a" stroke-width="0.18" text-anchor="end" textLength="8.61" lengthAdjust="spacingAndGlyphs">10</text>
<path d="M37 63.14H40" stroke="#222" stroke-width="1.1"/>
<text x="34.1" y="80" font-size="8.8" fill="#2a2a2a" stroke="#2a2a2a" stroke-width="0.18" text-anchor="end" textLength="4.31" lengthAdjust="spacingAndGlyphs">0</text>
<path d="M37 77.4H40" stroke="#222" stroke-width="1.1"/>
<text x="34.1" y="94.26" font-size="8.8" fill="#2a2a2a" stroke="#2a2a2a" stroke-width="0.18" text-anchor="end" textLength="12.84" lengthAdjust="spacingAndGlyphs">−10</text>
<path d="M37 91.66H40" stroke="#222" stroke-width="1.1"/>
<text x="34.1" y="108.52" font-size="8.8" fill="#2a2a2a" stroke="#2a2a2a" stroke-width="0.18" text-anchor="end" textLength="12.84" lengthAdjust="spacingAndGlyphs">−20</text>
<path d="M37 105.92H40" stroke="#222" stroke-width="1.1"/>
<text x="34.1" y="122.78" font-size="8.8" fill="#2a2a2a" stroke="#2a2a2a" stroke-width="0.18" text-anchor="end" textLength="12.84" lengthAdjust="spacingAndGlyphs">−30</text>
<path d="M37 120.18H40" stroke="#222" stroke-width="1.1"/>
<text x="34.1" y="137.04" font-size="8.8" fill="#2a2a2a" stroke="#2a2a2a" stroke-width="0.18" text-anchor="end" textLength="12.84" lengthAdjust="spacingAndGlyphs">−40</text>
<path d="M37 134.44H40" stroke="#222" stroke-width="1.1"/>
<path d="M44 63.2H245.5M44 91.2H245.5" stroke="#2a2a2a" stroke-width="1.1" stroke-dasharray="2.9 2.5"/>
<path d="M40 77.2H245" stroke="#1a1a1a" stroke-width="1.1"/>
<path d="M40.1 16.3V138.2H245.5" stroke="#111" stroke-width="1.4" fill="none"/>
<path d="M52 138.5V141.8" stroke="#222" stroke-width="1.1"/>
<path d="M83 138.5V141.8" stroke="#222" stroke-width="1.1"/>
<path d="M114 138.5V141.8" stroke="#222" stroke-width="1.1"/>
<path d="M145 138.5V141.8" stroke="#222" stroke-width="1.1"/>
<path d="M176.1 138.5V141.8" stroke="#222" stroke-width="1.1"/>
<path d="M207.2 138.5V141.8" stroke="#222" stroke-width="1.1"/>
<path d="M238.3 138.5V141.8" stroke="#222" stroke-width="1.1"/>
<text x="52" y="151.35" font-size="8.4" fill="#2a2a2a" stroke="#2a2a2a" stroke-width="0.18" text-anchor="middle" textLength="29.81" lengthAdjust="spacingAndGlyphs">Baseline</text>
<text x="83" y="151.35" font-size="8.4" fill="#2a2a2a" stroke="#2a2a2a" stroke-width="0.18" text-anchor="middle" textLength="14.49" lengthAdjust="spacingAndGlyphs">Day</text>
<text x="83" y="160.9" font-size="8.8" fill="#2a2a2a" stroke="#2a2a2a" stroke-width="0.18" text-anchor="middle" textLength="9.1" lengthAdjust="spacingAndGlyphs">50</text>
<text x="114" y="151.35" font-size="8.4" fill="#2a2a2a" stroke="#2a2a2a" stroke-width="0.18" text-anchor="middle" textLength="14.49" lengthAdjust="spacingAndGlyphs">Day</text>
<text x="114" y="160.9" font-size="8.8" fill="#2a2a2a" stroke="#2a2a2a" stroke-width="0.18" text-anchor="middle" textLength="13.65" lengthAdjust="spacingAndGlyphs">100</text>
<text x="145" y="151.35" font-size="8.4" fill="#2a2a2a" stroke="#2a2a2a" stroke-width="0.18" text-anchor="middle" textLength="14.49" lengthAdjust="spacingAndGlyphs">Day</text>
<text x="145" y="160.9" font-size="8.8" fill="#2a2a2a" stroke="#2a2a2a" stroke-width="0.18" text-anchor="middle" textLength="13.65" lengthAdjust="spacingAndGlyphs">150</text>
<text x="176.1" y="151.35" font-size="8.4" fill="#2a2a2a" stroke="#2a2a2a" stroke-width="0.18" text-anchor="middle" textLength="24.05" lengthAdjust="spacingAndGlyphs">Month</text>
<text x="176.1" y="160.9" font-size="8.8" fill="#2a2a2a" stroke="#2a2a2a" stroke-width="0.18" text-anchor="middle" textLength="4.55" lengthAdjust="spacingAndGlyphs">9</text>
<text x="207.2" y="151.35" font-size="8.4" fill="#2a2a2a" stroke="#2a2a2a" stroke-width="0.18" text-anchor="middle" textLength="24.05" lengthAdjust="spacingAndGlyphs">Month</text>
<text x="207.2" y="160.9" font-size="8.8" fill="#2a2a2a" stroke="#2a2a2a" stroke-width="0.18" text-anchor="middle" textLength="9.1" lengthAdjust="spacingAndGlyphs">12</text>
<text x="238.3" y="151.35" font-size="8.4" fill="#2a2a2a" stroke="#2a2a2a" stroke-width="0.18" text-anchor="middle" textLength="24.05" lengthAdjust="spacingAndGlyphs">Month</text>
<text x="238.3" y="160.9" font-size="8.8" fill="#2a2a2a" stroke="#2a2a2a" stroke-width="0.18" text-anchor="middle" textLength="9.1" lengthAdjust="spacingAndGlyphs">15</text>
<text x="148.2" y="173.4" font-size="10.3" fill="#2a2a2a" stroke="#2a2a2a" stroke-width="0.18" text-anchor="middle" textLength="34.97" lengthAdjust="spacingAndGlyphs">Study visit</text>
<text x="40.6" y="185.8" font-size="8.3" fill="#2a5079" stroke="#2a5079" stroke-width="0.12" text-anchor="end">Axi-cel</text>
<text x="40.3" y="198" font-size="8.3" fill="#b42a48" stroke="#b42a48" stroke-width="0.12" text-anchor="end" textLength="17.09" lengthAdjust="spacingAndGlyphs">SOC</text>
<text x="52.2" y="185.8" font-size="8.4" fill="#2a5079" stroke="#2a5079" stroke-width="0.12" text-anchor="middle" textLength="13.45" lengthAdjust="spacingAndGlyphs">165</text>
<text x="52.2" y="198" font-size="8.4" fill="#b42a48" stroke="#b42a48" stroke-width="0.12" text-anchor="middle" textLength="13.45" lengthAdjust="spacingAndGlyphs">131</text>
<text x="83.2" y="185.8" font-size="8.4" fill="#2a5079" stroke="#2a5079" stroke-width="0.12" text-anchor="middle" textLength="13.45" lengthAdjust="spacingAndGlyphs">163</text>
<text x="83.2" y="198" font-size="8.4" fill="#b42a48" stroke="#b42a48" stroke-width="0.12" text-anchor="middle" textLength="13.45" lengthAdjust="spacingAndGlyphs">125</text>
<text x="114.2" y="185.8" font-size="8.4" fill="#2a5079" stroke="#2a5079" stroke-width="0.12" text-anchor="middle" textLength="13.45" lengthAdjust="spacingAndGlyphs">145</text>
<text x="114.2" y="198" font-size="8.4" fill="#b42a48" stroke="#b42a48" stroke-width="0.12" text-anchor="middle" textLength="8.97" lengthAdjust="spacingAndGlyphs">64</text>
<text x="145.2" y="185.8" font-size="8.4" fill="#2a5079" stroke="#2a5079" stroke-width="0.12" text-anchor="middle" textLength="13.45" lengthAdjust="spacingAndGlyphs">109</text>
<text x="145.2" y="198" font-size="8.4" fill="#b42a48" stroke="#b42a48" stroke-width="0.12" text-anchor="middle" textLength="8.97" lengthAdjust="spacingAndGlyphs">56</text>
<text x="176.3" y="185.8" font-size="8.4" fill="#2a5079" stroke="#2a5079" stroke-width="0.12" text-anchor="middle" textLength="8.97" lengthAdjust="spacingAndGlyphs">88</text>
<text x="176.3" y="198" font-size="8.4" fill="#b42a48" stroke="#b42a48" stroke-width="0.12" text-anchor="middle" textLength="8.97" lengthAdjust="spacingAndGlyphs">40</text>
<text x="207.4" y="185.8" font-size="8.4" fill="#2a5079" stroke="#2a5079" stroke-width="0.12" text-anchor="middle" textLength="8.97" lengthAdjust="spacingAndGlyphs">79</text>
<text x="207.4" y="198" font-size="8.4" fill="#b42a48" stroke="#b42a48" stroke-width="0.12" text-anchor="middle" textLength="8.97" lengthAdjust="spacingAndGlyphs">33</text>
<text x="238.5" y="185.8" font-size="8.4" fill="#2a5079" stroke="#2a5079" stroke-width="0.12" text-anchor="middle" textLength="8.97" lengthAdjust="spacingAndGlyphs">67</text>
<text x="238.5" y="198" font-size="8.4" fill="#b42a48" stroke="#b42a48" stroke-width="0.12" text-anchor="middle" textLength="8.97" lengthAdjust="spacingAndGlyphs">26</text>
<path d="M83 69.13V82.96M80.6 69.13H85.4M80.6 82.96H85.4" stroke="#444" stroke-width="1" fill="none" shape-rendering="crispEdges"/>
<path d="M114 72.98V87.1M111.6 72.98H116.4M111.6 87.1H116.4" stroke="#444" stroke-width="1" fill="none" shape-rendering="crispEdges"/>
<path d="M145 72.12V88.67M142.6 72.12H147.4M142.6 88.67H147.4" stroke="#444" stroke-width="1" fill="none" shape-rendering="crispEdges"/>
<path d="M176.1 80.25V95.23M173.7 80.25H178.5M173.7 95.23H178.5" stroke="#444" stroke-width="1" fill="none" shape-rendering="crispEdges"/>
<path d="M207.2 75.26V88.81M204.8 75.26H209.6M204.8 88.81H209.6" stroke="#444" stroke-width="1" fill="none" shape-rendering="crispEdges"/>
<path d="M238.3 75.97V91.66M235.9 75.97H240.7M235.9 91.66H240.7" stroke="#444" stroke-width="1" fill="none" shape-rendering="crispEdges"/>
<path d="M83 58.01V72.12M80.6 58.01H85.4M80.6 72.12H85.4" stroke="#444" stroke-width="1" fill="none" shape-rendering="crispEdges"/>
<path d="M114 46.74V64.85M111.6 46.74H116.4M111.6 64.85H116.4" stroke="#444" stroke-width="1" fill="none" shape-rendering="crispEdges"/>
<path d="M145 50.31V72.12M142.6 50.31H147.4M142.6 72.12H147.4" stroke="#444" stroke-width="1" fill="none" shape-rendering="crispEdges"/>
<path d="M176.1 56.01V76.69M173.7 56.01H178.5M173.7 76.69H178.5" stroke="#444" stroke-width="1" fill="none" shape-rendering="crispEdges"/>
<path d="M207.2 72.55V91.66M204.8 72.55H209.6M204.8 91.66H209.6" stroke="#444" stroke-width="1" fill="none" shape-rendering="crispEdges"/>
<path d="M238.3 63.28V91.66M235.9 63.28H240.7M235.9 91.66H240.7" stroke="#444" stroke-width="1" fill="none" shape-rendering="crispEdges"/>
<polyline points="52,77.4 83,64.71 114,56.01 145,61.43 176.1,66.28 207.2,82.53 238.3,74.83" fill="none" stroke="#b8103a" stroke-width="1.35" stroke-linejoin="round"/>
<circle cx="52" cy="77.4" r="2.25" fill="#b8103a"/>
<circle cx="83" cy="64.71" r="2.25" fill="#b8103a"/>
<circle cx="114" cy="56.01" r="2.25" fill="#b8103a"/>
<circle cx="145" cy="61.43" r="2.25" fill="#b8103a"/>
<circle cx="176.1" cy="66.28" r="2.25" fill="#b8103a"/>
<circle cx="207.2" cy="82.53" r="2.25" fill="#b8103a"/>
<circle cx="238.3" cy="74.83" r="2.25" fill="#b8103a"/>
<polyline points="52,77.4 83,75.97 114,79.82 145,80.54 176.1,87.52 207.2,82.53 238.3,83.67" fill="none" stroke="#1b4b7e" stroke-width="1.35" stroke-linejoin="round"/>
<circle cx="52" cy="77.4" r="2.25" fill="#1b4b7e"/>
<circle cx="83" cy="75.97" r="2.25" fill="#1b4b7e"/>
<circle cx="114" cy="79.82" r="2.25" fill="#1b4b7e"/>
<circle cx="145" cy="80.54" r="2.25" fill="#1b4b7e"/>
<circle cx="176.1" cy="87.52" r="2.25" fill="#1b4b7e"/>
<circle cx="207.2" cy="82.53" r="2.25" fill="#1b4b7e"/>
<circle cx="238.3" cy="83.67" r="2.25" fill="#1b4b7e"/>
<text x="114" y="43" font-size="8.5" font-weight="bold" fill="#222" text-anchor="middle">*</text>
<text x="145" y="46.5" font-size="8.5" font-weight="bold" fill="#222" text-anchor="middle">*</text>
<text x="176.1" y="52.2" font-size="8.5" font-weight="bold" fill="#222" text-anchor="middle">*</text>
</g>
<g transform="translate(0,421.1)">
<text x="1" y="9.8" font-size="10.6" font-weight="bold" fill="#111" stroke="#111" stroke-width="0.25" textLength="7.28" lengthAdjust="spacingAndGlyphs">E</text>
<text x="142.3" y="10.1" font-size="9.6" fill="#2a2a2a" stroke="#2a2a2a" stroke-width="0.08" text-anchor="middle" textLength="119.44" lengthAdjust="spacingAndGlyphs">EORTC QLQ-C30 insomnia</text>
<text transform="translate(14.3,77.9) rotate(-90)" font-size="9.3" fill="#2a2a2a" stroke="#2a2a2a" stroke-width="0.18" text-anchor="middle" textLength="60" lengthAdjust="spacingAndGlyphs">Estimate (95% CI)</text>
<text x="34.1" y="22.96" font-size="8.8" fill="#2a2a2a" stroke="#2a2a2a" stroke-width="0.18" text-anchor="end" textLength="8.61" lengthAdjust="spacingAndGlyphs">40</text>
<path d="M37 20.36H40" stroke="#222" stroke-width="1.1"/>
<text x="34.1" y="37.22" font-size="8.8" fill="#2a2a2a" stroke="#2a2a2a" stroke-width="0.18" text-anchor="end" textLength="8.61" lengthAdjust="spacingAndGlyphs">30</text>
<path d="M37 34.62H40" stroke="#222" stroke-width="1.1"/>
<text x="34.1" y="51.48" font-size="8.8" fill="#2a2a2a" stroke="#2a2a2a" stroke-width="0.18" text-anchor="end" textLength="8.61" lengthAdjust="spacingAndGlyphs">20</text>
<path d="M37 48.88H40" stroke="#222" stroke-width="1.1"/>
<text x="34.1" y="65.74" font-size="8.8" fill="#2a2a2a" stroke="#2a2a2a" stroke-width="0.18" text-anchor="end" textLength="8.61" lengthAdjust="spacingAndGlyphs">10</text>
<path d="M37 63.14H40" stroke="#222" stroke-width="1.1"/>
<text x="34.1" y="80" font-size="8.8" fill="#2a2a2a" stroke="#2a2a2a" stroke-width="0.18" text-anchor="end" textLength="4.31" lengthAdjust="spacingAndGlyphs">0</text>
<path d="M37 77.4H40" stroke="#222" stroke-width="1.1"/>
<text x="34.1" y="94.26" font-size="8.8" fill="#2a2a2a" stroke="#2a2a2a" stroke-width="0.18" text-anchor="end" textLength="12.84" lengthAdjust="spacingAndGlyphs">−10</text>
<path d="M37 91.66H40" stroke="#222" stroke-width="1.1"/>
<text x="34.1" y="108.52" font-size="8.8" fill="#2a2a2a" stroke="#2a2a2a" stroke-width="0.18" text-anchor="end" textLength="12.84" lengthAdjust="spacingAndGlyphs">−20</text>
<path d="M37 105.92H40" stroke="#222" stroke-width="1.1"/>
<text x="34.1" y="122.78" font-size="8.8" fill="#2a2a2a" stroke="#2a2a2a" stroke-width="0.18" text-anchor="end" textLength="12.84" lengthAdjust="spacingAndGlyphs">−30</text>
<path d="M37 120.18H40" stroke="#222" stroke-width="1.1"/>
<text x="34.1" y="137.04" font-size="8.8" fill="#2a2a2a" stroke="#2a2a2a" stroke-width="0.18" text-anchor="end" textLength="12.84" lengthAdjust="spacingAndGlyphs">−40</text>
<path d="M37 134.44H40" stroke="#222" stroke-width="1.1"/>
<path d="M44 63.4H245.5M44 91.4H245.5" stroke="#2a2a2a" stroke-width="1.1" stroke-dasharray="2.9 2.5"/>
<path d="M40 77.4H245" stroke="#1a1a1a" stroke-width="1.1"/>
<path d="M40.5 16.3V138.4H245.5" stroke="#111" stroke-width="1.4" fill="none"/>
<path d="M52 138.5V141.8" stroke="#222" stroke-width="1.1"/>
<path d="M83 138.5V141.8" stroke="#222" stroke-width="1.1"/>
<path d="M114 138.5V141.8" stroke="#222" stroke-width="1.1"/>
<path d="M145 138.5V141.8" stroke="#222" stroke-width="1.1"/>
<path d="M176.1 138.5V141.8" stroke="#222" stroke-width="1.1"/>
<path d="M207.2 138.5V141.8" stroke="#222" stroke-width="1.1"/>
<path d="M238.3 138.5V141.8" stroke="#222" stroke-width="1.1"/>
<text x="52" y="151.35" font-size="8.4" fill="#2a2a2a" stroke="#2a2a2a" stroke-width="0.18" text-anchor="middle" textLength="29.81" lengthAdjust="spacingAndGlyphs">Baseline</text>
<text x="83" y="151.35" font-size="8.4" fill="#2a2a2a" stroke="#2a2a2a" stroke-width="0.18" text-anchor="middle" textLength="14.49" lengthAdjust="spacingAndGlyphs">Day</text>
<text x="83" y="160.9" font-size="8.8" fill="#2a2a2a" stroke="#2a2a2a" stroke-width="0.18" text-anchor="middle" textLength="9.1" lengthAdjust="spacingAndGlyphs">50</text>
<text x="114" y="151.35" font-size="8.4" fill="#2a2a2a" stroke="#2a2a2a" stroke-width="0.18" text-anchor="middle" textLength="14.49" lengthAdjust="spacingAndGlyphs">Day</text>
<text x="114" y="160.9" font-size="8.8" fill="#2a2a2a" stroke="#2a2a2a" stroke-width="0.18" text-anchor="middle" textLength="13.65" lengthAdjust="spacingAndGlyphs">100</text>
<text x="145" y="151.35" font-size="8.4" fill="#2a2a2a" stroke="#2a2a2a" stroke-width="0.18" text-anchor="middle" textLength="14.49" lengthAdjust="spacingAndGlyphs">Day</text>
<text x="145" y="160.9" font-size="8.8" fill="#2a2a2a" stroke="#2a2a2a" stroke-width="0.18" text-anchor="middle" textLength="13.65" lengthAdjust="spacingAndGlyphs">150</text>
<text x="176.1" y="151.35" font-size="8.4" fill="#2a2a2a" stroke="#2a2a2a" stroke-width="0.18" text-anchor="middle" textLength="24.05" lengthAdjust="spacingAndGlyphs">Month</text>
<text x="176.1" y="160.9" font-size="8.8" fill="#2a2a2a" stroke="#2a2a2a" stroke-width="0.18" text-anchor="middle" textLength="4.55" lengthAdjust="spacingAndGlyphs">9</text>
<text x="207.2" y="151.35" font-size="8.4" fill="#2a2a2a" stroke="#2a2a2a" stroke-width="0.18" text-anchor="middle" textLength="24.05" lengthAdjust="spacingAndGlyphs">Month</text>
<text x="207.2" y="160.9" font-size="8.8" fill="#2a2a2a" stroke="#2a2a2a" stroke-width="0.18" text-anchor="middle" textLength="9.1" lengthAdjust="spacingAndGlyphs">12</text>
<text x="238.3" y="151.35" font-size="8.4" fill="#2a2a2a" stroke="#2a2a2a" stroke-width="0.18" text-anchor="middle" textLength="24.05" lengthAdjust="spacingAndGlyphs">Month</text>
<text x="238.3" y="160.9" font-size="8.8" fill="#2a2a2a" stroke="#2a2a2a" stroke-width="0.18" text-anchor="middle" textLength="9.1" lengthAdjust="spacingAndGlyphs">15</text>
<text x="148.2" y="173.4" font-size="10.3" fill="#2a2a2a" stroke="#2a2a2a" stroke-width="0.18" text-anchor="middle" textLength="34.97" lengthAdjust="spacingAndGlyphs">Study visit</text>
<text x="40.6" y="186.3" font-size="8.3" fill="#2a5079" stroke="#2a5079" stroke-width="0.12" text-anchor="end">Axi-cel</text>
<text x="40.3" y="198.5" font-size="8.3" fill="#b42a48" stroke="#b42a48" stroke-width="0.12" text-anchor="end" textLength="17.09" lengthAdjust="spacingAndGlyphs">SOC</text>
<text x="52.2" y="186.3" font-size="8.4" fill="#2a5079" stroke="#2a5079" stroke-width="0.12" text-anchor="middle" textLength="13.45" lengthAdjust="spacingAndGlyphs">165</text>
<text x="52.2" y="198.5" font-size="8.4" fill="#b42a48" stroke="#b42a48" stroke-width="0.12" text-anchor="middle" textLength="13.45" lengthAdjust="spacingAndGlyphs">131</text>
<text x="83.2" y="186.3" font-size="8.4" fill="#2a5079" stroke="#2a5079" stroke-width="0.12" text-anchor="middle" textLength="13.45" lengthAdjust="spacingAndGlyphs">163</text>
<text x="83.2" y="198.5" font-size="8.4" fill="#b42a48" stroke="#b42a48" stroke-width="0.12" text-anchor="middle" textLength="13.45" lengthAdjust="spacingAndGlyphs">125</text>
<text x="114.2" y="186.3" font-size="8.4" fill="#2a5079" stroke="#2a5079" stroke-width="0.12" text-anchor="middle" textLength="13.45" lengthAdjust="spacingAndGlyphs">146</text>
<text x="114.2" y="198.5" font-size="8.4" fill="#b42a48" stroke="#b42a48" stroke-width="0.12" text-anchor="middle" textLength="8.97" lengthAdjust="spacingAndGlyphs">64</text>
<text x="145.2" y="186.3" font-size="8.4" fill="#2a5079" stroke="#2a5079" stroke-width="0.12" text-anchor="middle" textLength="13.45" lengthAdjust="spacingAndGlyphs">109</text>
<text x="145.2" y="198.5" font-size="8.4" fill="#b42a48" stroke="#b42a48" stroke-width="0.12" text-anchor="middle" textLength="8.97" lengthAdjust="spacingAndGlyphs">56</text>
<text x="176.3" y="186.3" font-size="8.4" fill="#2a5079" stroke="#2a5079" stroke-width="0.12" text-anchor="middle" textLength="8.97" lengthAdjust="spacingAndGlyphs">88</text>
<text x="176.3" y="198.5" font-size="8.4" fill="#b42a48" stroke="#b42a48" stroke-width="0.12" text-anchor="middle" textLength="8.97" lengthAdjust="spacingAndGlyphs">40</text>
<text x="207.4" y="186.3" font-size="8.4" fill="#2a5079" stroke="#2a5079" stroke-width="0.12" text-anchor="middle" textLength="8.97" lengthAdjust="spacingAndGlyphs">79</text>
<text x="207.4" y="198.5" font-size="8.4" fill="#b42a48" stroke="#b42a48" stroke-width="0.12" text-anchor="middle" textLength="8.97" lengthAdjust="spacingAndGlyphs">33</text>
<text x="238.5" y="186.3" font-size="8.4" fill="#2a5079" stroke="#2a5079" stroke-width="0.12" text-anchor="middle" textLength="8.97" lengthAdjust="spacingAndGlyphs">67</text>
<text x="238.5" y="198.5" font-size="8.4" fill="#b42a48" stroke="#b42a48" stroke-width="0.12" text-anchor="middle" textLength="8.97" lengthAdjust="spacingAndGlyphs">26</text>
<path d="M83 68.84V86.95M80.6 68.84H85.4M80.6 86.95H85.4" stroke="#444" stroke-width="1" fill="none" shape-rendering="crispEdges"/>
<path d="M114 74.26V92.37M111.6 74.26H116.4M111.6 92.37H116.4" stroke="#444" stroke-width="1" fill="none" shape-rendering="crispEdges"/>
<path d="M145 76.69V94.94M142.6 76.69H147.4M142.6 94.94H147.4" stroke="#444" stroke-width="1" fill="none" shape-rendering="crispEdges"/>
<path d="M176.1 79.54V96.94M173.7 79.54H178.5M173.7 96.94H178.5" stroke="#444" stroke-width="1" fill="none" shape-rendering="crispEdges"/>
<path d="M207.2 71.7V96.94M204.8 71.7H209.6M204.8 96.94H209.6" stroke="#444" stroke-width="1" fill="none" shape-rendering="crispEdges"/>
<path d="M238.3 78.83V96.08M235.9 78.83H240.7M235.9 96.08H240.7" stroke="#444" stroke-width="1" fill="none" shape-rendering="crispEdges"/>
<path d="M83 67.99V86.95M80.6 67.99H85.4M80.6 86.95H85.4" stroke="#444" stroke-width="1" fill="none" shape-rendering="crispEdges"/>
<path d="M114 57.29V78.11M111.6 57.29H116.4M111.6 78.11H116.4" stroke="#444" stroke-width="1" fill="none" shape-rendering="crispEdges"/>
<path d="M145 67.56V87.38M142.6 67.56H147.4M142.6 87.38H147.4" stroke="#444" stroke-width="1" fill="none" shape-rendering="crispEdges"/>
<path d="M176.1 72.98V93.09M173.7 72.98H178.5M173.7 93.09H178.5" stroke="#444" stroke-width="1" fill="none" shape-rendering="crispEdges"/>
<path d="M207.2 70.41V95.37M204.8 70.41H209.6M204.8 95.37H209.6" stroke="#444" stroke-width="1" fill="none" shape-rendering="crispEdges"/>
<path d="M238.3 70.41V93.09M235.9 70.41H240.7M235.9 93.09H240.7" stroke="#444" stroke-width="1" fill="none" shape-rendering="crispEdges"/>
<polyline points="52,77.4 83,78.11 114,83.96 145,85.67 176.1,88.38 207.2,83.39 238.3,87.52" fill="none" stroke="#1b4b7e" stroke-width="1.35" stroke-linejoin="round"/>
<circle cx="52" cy="77.4" r="2.25" fill="#1b4b7e"/>
<circle cx="83" cy="78.11" r="2.25" fill="#1b4b7e"/>
<circle cx="114" cy="83.96" r="2.25" fill="#1b4b7e"/>
<circle cx="145" cy="85.67" r="2.25" fill="#1b4b7e"/>
<circle cx="176.1" cy="88.38" r="2.25" fill="#1b4b7e"/>
<circle cx="207.2" cy="83.39" r="2.25" fill="#1b4b7e"/>
<circle cx="238.3" cy="87.52" r="2.25" fill="#1b4b7e"/>
<polyline points="52,77.4 83,77.69 114,68.84 145,78.54 176.1,84.96 207.2,83.39 238.3,83.1" fill="none" stroke="#b8103a" stroke-width="1.35" stroke-linejoin="round"/>
<circle cx="52" cy="77.4" r="2.25" fill="#b8103a"/>
<circle cx="83" cy="77.69" r="2.25" fill="#b8103a"/>
<circle cx="114" cy="68.84" r="2.25" fill="#b8103a"/>
<circle cx="145" cy="78.54" r="2.25" fill="#b8103a"/>
<circle cx="176.1" cy="84.96" r="2.25" fill="#b8103a"/>
<circle cx="207.2" cy="83.39" r="2.25" fill="#b8103a"/>
<circle cx="238.3" cy="83.1" r="2.25" fill="#b8103a"/>
<text x="114" y="56" font-size="8.5" font-weight="bold" fill="#222" text-anchor="middle">*</text>
</g>
<g transform="translate(269.4,421.9)">
<text x="1" y="8.9" font-size="10.6" font-weight="bold" fill="#111" stroke="#111" stroke-width="0.25" textLength="6.67" lengthAdjust="spacingAndGlyphs">F</text>
<text x="142.3" y="9.2" font-size="9.6" fill="#2a2a2a" stroke="#2a2a2a" stroke-width="0.08" text-anchor="middle" textLength="135.08" lengthAdjust="spacingAndGlyphs">EORTC QLQ-C30 appetite loss</text>
<text transform="translate(14.3,77.9) rotate(-90)" font-size="9.3" fill="#2a2a2a" stroke="#2a2a2a" stroke-width="0.18" text-anchor="middle" textLength="60" lengthAdjust="spacingAndGlyphs">Estimate (95% CI)</text>
<text x="34.1" y="22.96" font-size="8.8" fill="#2a2a2a" stroke="#2a2a2a" stroke-width="0.18" text-anchor="end" textLength="8.61" lengthAdjust="spacingAndGlyphs">40</text>
<path d="M37 20.36H40" stroke="#222" stroke-width="1.1"/>
<text x="34.1" y="37.22" font-size="8.8" fill="#2a2a2a" stroke="#2a2a2a" stroke-width="0.18" text-anchor="end" textLength="8.61" lengthAdjust="spacingAndGlyphs">30</text>
<path d="M37 34.62H40" stroke="#222" stroke-width="1.1"/>
<text x="34.1" y="51.48" font-size="8.8" fill="#2a2a2a" stroke="#2a2a2a" stroke-width="0.18" text-anchor="end" textLength="8.61" lengthAdjust="spacingAndGlyphs">20</text>
<path d="M37 48.88H40" stroke="#222" stroke-width="1.1"/>
<text x="34.1" y="65.74" font-size="8.8" fill="#2a2a2a" stroke="#2a2a2a" stroke-width="0.18" text-anchor="end" textLength="8.61" lengthAdjust="spacingAndGlyphs">10</text>
<path d="M37 63.14H40" stroke="#222" stroke-width="1.1"/>
<text x="34.1" y="80" font-size="8.8" fill="#2a2a2a" stroke="#2a2a2a" stroke-width="0.18" text-anchor="end" textLength="4.31" lengthAdjust="spacingAndGlyphs">0</text>
<path d="M37 77.4H40" stroke="#222" stroke-width="1.1"/>
<text x="34.1" y="94.26" font-size="8.8" fill="#2a2a2a" stroke="#2a2a2a" stroke-width="0.18" text-anchor="end" textLength="12.84" lengthAdjust="spacingAndGlyphs">−10</text>
<path d="M37 91.66H40" stroke="#222" stroke-width="1.1"/>
<text x="34.1" y="108.52" font-size="8.8" fill="#2a2a2a" stroke="#2a2a2a" stroke-width="0.18" text-anchor="end" textLength="12.84" lengthAdjust="spacingAndGlyphs">−20</text>
<path d="M37 105.92H40" stroke="#222" stroke-width="1.1"/>
<text x="34.1" y="122.78" font-size="8.8" fill="#2a2a2a" stroke="#2a2a2a" stroke-width="0.18" text-anchor="end" textLength="12.84" lengthAdjust="spacingAndGlyphs">−30</text>
<path d="M37 120.18H40" stroke="#222" stroke-width="1.1"/>
<text x="34.1" y="137.04" font-size="8.8" fill="#2a2a2a" stroke="#2a2a2a" stroke-width="0.18" text-anchor="end" textLength="12.84" lengthAdjust="spacingAndGlyphs">−40</text>
<path d="M37 134.44H40" stroke="#222" stroke-width="1.1"/>
<path d="M44 63.6H245.5M44 91.6H245.5" stroke="#2a2a2a" stroke-width="1.1" stroke-dasharray="2.9 2.5"/>
<path d="M40 77.6H245" stroke="#1a1a1a" stroke-width="1.1"/>
<path d="M40.1 16.3V138.6H245.5" stroke="#111" stroke-width="1.4" fill="none"/>
<path d="M52 138.5V141.8" stroke="#222" stroke-width="1.1"/>
<path d="M83 138.5V141.8" stroke="#222" stroke-width="1.1"/>
<path d="M114 138.5V141.8" stroke="#222" stroke-width="1.1"/>
<path d="M145 138.5V141.8" stroke="#222" stroke-width="1.1"/>
<path d="M176.1 138.5V141.8" stroke="#222" stroke-width="1.1"/>
<path d="M207.2 138.5V141.8" stroke="#222" stroke-width="1.1"/>
<path d="M238.3 138.5V141.8" stroke="#222" stroke-width="1.1"/>
<text x="52" y="151.35" font-size="8.4" fill="#2a2a2a" stroke="#2a2a2a" stroke-width="0.18" text-anchor="middle" textLength="29.81" lengthAdjust="spacingAndGlyphs">Baseline</text>
<text x="83" y="151.35" font-size="8.4" fill="#2a2a2a" stroke="#2a2a2a" stroke-width="0.18" text-anchor="middle" textLength="14.49" lengthAdjust="spacingAndGlyphs">Day</text>
<text x="83" y="160.9" font-size="8.8" fill="#2a2a2a" stroke="#2a2a2a" stroke-width="0.18" text-anchor="middle" textLength="9.1" lengthAdjust="spacingAndGlyphs">50</text>
<text x="114" y="151.35" font-size="8.4" fill="#2a2a2a" stroke="#2a2a2a" stroke-width="0.18" text-anchor="middle" textLength="14.49" lengthAdjust="spacingAndGlyphs">Day</text>
<text x="114" y="160.9" font-size="8.8" fill="#2a2a2a" stroke="#2a2a2a" stroke-width="0.18" text-anchor="middle" textLength="13.65" lengthAdjust="spacingAndGlyphs">100</text>
<text x="145" y="151.35" font-size="8.4" fill="#2a2a2a" stroke="#2a2a2a" stroke-width="0.18" text-anchor="middle" textLength="14.49" lengthAdjust="spacingAndGlyphs">Day</text>
<text x="145" y="160.9" font-size="8.8" fill="#2a2a2a" stroke="#2a2a2a" stroke-width="0.18" text-anchor="middle" textLength="13.65" lengthAdjust="spacingAndGlyphs">150</text>
<text x="176.1" y="151.35" font-size="8.4" fill="#2a2a2a" stroke="#2a2a2a" stroke-width="0.18" text-anchor="middle" textLength="24.05" lengthAdjust="spacingAndGlyphs">Month</text>
<text x="176.1" y="160.9" font-size="8.8" fill="#2a2a2a" stroke="#2a2a2a" stroke-width="0.18" text-anchor="middle" textLength="4.55" lengthAdjust="spacingAndGlyphs">9</text>
<text x="207.2" y="151.35" font-size="8.4" fill="#2a2a2a" stroke="#2a2a2a" stroke-width="0.18" text-anchor="middle" textLength="24.05" lengthAdjust="spacingAndGlyphs">Month</text>
<text x="207.2" y="160.9" font-size="8.8" fill="#2a2a2a" stroke="#2a2a2a" stroke-width="0.18" text-anchor="middle" textLength="9.1" lengthAdjust="spacingAndGlyphs">12</text>
<text x="238.3" y="151.35" font-size="8.4" fill="#2a2a2a" stroke="#2a2a2a" stroke-width="0.18" text-anchor="middle" textLength="24.05" lengthAdjust="spacingAndGlyphs">Month</text>
<text x="238.3" y="160.9" font-size="8.8" fill="#2a2a2a" stroke="#2a2a2a" stroke-width="0.18" text-anchor="middle" textLength="9.1" lengthAdjust="spacingAndGlyphs">15</text>
<text x="148.2" y="173.4" font-size="10.3" fill="#2a2a2a" stroke="#2a2a2a" stroke-width="0.18" text-anchor="middle" textLength="34.97" lengthAdjust="spacingAndGlyphs">Study visit</text>
<text x="40.6" y="185.4" font-size="8.3" fill="#2a5079" stroke="#2a5079" stroke-width="0.12" text-anchor="end">Axi-cel</text>
<text x="40.3" y="197.6" font-size="8.3" fill="#b42a48" stroke="#b42a48" stroke-width="0.12" text-anchor="end" textLength="17.09" lengthAdjust="spacingAndGlyphs">SOC</text>
<text x="52.2" y="185.4" font-size="8.4" fill="#2a5079" stroke="#2a5079" stroke-width="0.12" text-anchor="middle" textLength="13.45" lengthAdjust="spacingAndGlyphs">165</text>
<text x="52.2" y="197.6" font-size="8.4" fill="#b42a48" stroke="#b42a48" stroke-width="0.12" text-anchor="middle" textLength="13.45" lengthAdjust="spacingAndGlyphs">131</text>
<text x="83.2" y="185.4" font-size="8.4" fill="#2a5079" stroke="#2a5079" stroke-width="0.12" text-anchor="middle" textLength="13.45" lengthAdjust="spacingAndGlyphs">163</text>
<text x="83.2" y="197.6" font-size="8.4" fill="#b42a48" stroke="#b42a48" stroke-width="0.12" text-anchor="middle" textLength="13.45" lengthAdjust="spacingAndGlyphs">126</text>
<text x="114.2" y="185.4" font-size="8.4" fill="#2a5079" stroke="#2a5079" stroke-width="0.12" text-anchor="middle" textLength="13.45" lengthAdjust="spacingAndGlyphs">146</text>
<text x="114.2" y="197.6" font-size="8.4" fill="#b42a48" stroke="#b42a48" stroke-width="0.12" text-anchor="middle" textLength="8.97" lengthAdjust="spacingAndGlyphs">63</text>
<text x="145.2" y="185.4" font-size="8.4" fill="#2a5079" stroke="#2a5079" stroke-width="0.12" text-anchor="middle" textLength="13.45" lengthAdjust="spacingAndGlyphs">109</text>
<text x="145.2" y="197.6" font-size="8.4" fill="#b42a48" stroke="#b42a48" stroke-width="0.12" text-anchor="middle" textLength="8.97" lengthAdjust="spacingAndGlyphs">56</text>
<text x="176.3" y="185.4" font-size="8.4" fill="#2a5079" stroke="#2a5079" stroke-width="0.12" text-anchor="middle" textLength="8.97" lengthAdjust="spacingAndGlyphs">88</text>
<text x="176.3" y="197.6" font-size="8.4" fill="#b42a48" stroke="#b42a48" stroke-width="0.12" text-anchor="middle" textLength="8.97" lengthAdjust="spacingAndGlyphs">40</text>
<text x="207.4" y="185.4" font-size="8.4" fill="#2a5079" stroke="#2a5079" stroke-width="0.12" text-anchor="middle" textLength="8.97" lengthAdjust="spacingAndGlyphs">79</text>
<text x="207.4" y="197.6" font-size="8.4" fill="#b42a48" stroke="#b42a48" stroke-width="0.12" text-anchor="middle" textLength="8.97" lengthAdjust="spacingAndGlyphs">33</text>
<text x="238.5" y="185.4" font-size="8.4" fill="#2a5079" stroke="#2a5079" stroke-width="0.12" text-anchor="middle" textLength="8.97" lengthAdjust="spacingAndGlyphs">67</text>
<text x="238.5" y="197.6" font-size="8.4" fill="#b42a48" stroke="#b42a48" stroke-width="0.12" text-anchor="middle" textLength="8.97" lengthAdjust="spacingAndGlyphs">26</text>
<path d="M83 44.32V63.14M80.6 44.32H85.4M80.6 63.14H85.4" stroke="#444" stroke-width="1" fill="none" shape-rendering="crispEdges"/>
<path d="M114 67.56V83.96M111.6 67.56H116.4M111.6 83.96H116.4" stroke="#444" stroke-width="1" fill="none" shape-rendering="crispEdges"/>
<path d="M145 72.41V87.81M142.6 72.41H147.4M142.6 87.81H147.4" stroke="#444" stroke-width="1" fill="none" shape-rendering="crispEdges"/>
<path d="M176.1 75.97V94.23M173.7 75.97H178.5M173.7 94.23H178.5" stroke="#444" stroke-width="1" fill="none" shape-rendering="crispEdges"/>
<path d="M207.2 75.97V94.23M204.8 75.97H209.6M204.8 94.23H209.6" stroke="#444" stroke-width="1" fill="none" shape-rendering="crispEdges"/>
<path d="M238.3 73.12V91.95M235.9 73.12H240.7M235.9 91.95H240.7" stroke="#444" stroke-width="1" fill="none" shape-rendering="crispEdges"/>
<path d="M83 53.87V73.26M80.6 53.87H85.4M80.6 73.26H85.4" stroke="#444" stroke-width="1" fill="none" shape-rendering="crispEdges"/>
<path d="M114 33.19V54.87M111.6 33.19H116.4M111.6 54.87H116.4" stroke="#444" stroke-width="1" fill="none" shape-rendering="crispEdges"/>
<path d="M145 58.58V78.83M142.6 58.58H147.4M142.6 78.83H147.4" stroke="#444" stroke-width="1" fill="none" shape-rendering="crispEdges"/>
<path d="M176.1 65.42V87.38M173.7 65.42H178.5M173.7 87.38H178.5" stroke="#444" stroke-width="1" fill="none" shape-rendering="crispEdges"/>
<path d="M207.2 66.28V87.38M204.8 66.28H209.6M204.8 87.38H209.6" stroke="#444" stroke-width="1" fill="none" shape-rendering="crispEdges"/>
<path d="M238.3 67.7V90.23M235.9 67.7H240.7M235.9 90.23H240.7" stroke="#444" stroke-width="1" fill="none" shape-rendering="crispEdges"/>
<polyline points="52,77.4 83,52.73 114,76.26 145,79.68 176.1,84.96 207.2,84.96 238.3,81.96" fill="none" stroke="#1b4b7e" stroke-width="1.35" stroke-linejoin="round"/>
<circle cx="52" cy="77.4" r="2.25" fill="#1b4b7e"/>
<circle cx="83" cy="52.73" r="2.25" fill="#1b4b7e"/>
<circle cx="114" cy="76.26" r="2.25" fill="#1b4b7e"/>
<circle cx="145" cy="79.68" r="2.25" fill="#1b4b7e"/>
<circle cx="176.1" cy="84.96" r="2.25" fill="#1b4b7e"/>
<circle cx="207.2" cy="84.96" r="2.25" fill="#1b4b7e"/>
<circle cx="238.3" cy="81.96" r="2.25" fill="#1b4b7e"/>
<polyline points="52,77.4 83,63.57 114,44.46 145,69.27 176.1,77.4 207.2,77.83 238.3,80.39" fill="none" stroke="#b8103a" stroke-width="1.35" stroke-linejoin="round"/>
<circle cx="52" cy="77.4" r="2.25" fill="#b8103a"/>
<circle cx="83" cy="63.57" r="2.25" fill="#b8103a"/>
<circle cx="114" cy="44.46" r="2.25" fill="#b8103a"/>
<circle cx="145" cy="69.27" r="2.25" fill="#b8103a"/>
<circle cx="176.1" cy="77.4" r="2.25" fill="#b8103a"/>
<circle cx="207.2" cy="77.83" r="2.25" fill="#b8103a"/>
<circle cx="238.3" cy="80.39" r="2.25" fill="#b8103a"/>
<text x="114" y="31.7" font-size="8.5" font-weight="bold" fill="#222" text-anchor="middle">*</text>
</g>
</svg>
</body></html>
